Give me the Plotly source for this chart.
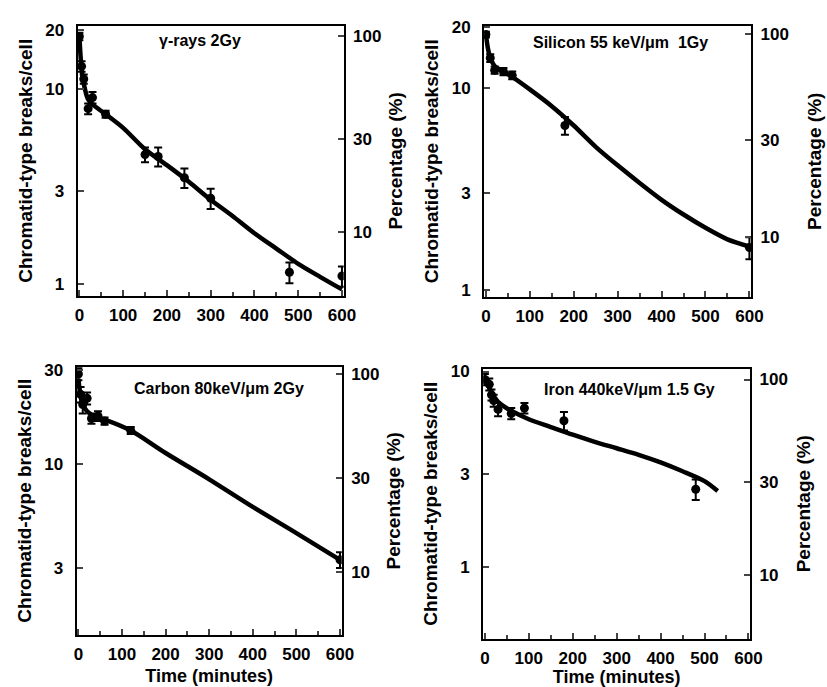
import math
import plotly.graph_objects as go

# ---- measured chromatid-type breaks per cell (points) and fitted curves ----
gamma_t = [0, 5, 10, 20, 30, 60, 150, 180, 240, 300, 480, 600]
gamma_y = [18.5, 13.0, 11.2, 7.9, 9.0, 7.4, 4.6, 4.5, 3.5, 2.75, 1.15, 1.1]
gamma_err = [0.8, 0.8, 0.6, 0.5, 0.6, 0.3, 0.4, 0.5, 0.4, 0.33, 0.14, 0.13]
gamma_fit_t = [0, 2, 5, 10, 20, 30, 60, 100, 150, 200, 250, 300, 350, 400, 450, 500, 550, 600]
gamma_fit_y = [18.6, 15.5, 12.6, 10.6, 8.8, 8.3, 7.4, 6.3, 4.9, 4.06, 3.34, 2.7, 2.23, 1.82, 1.52, 1.27, 1.09, 0.94]

silicon_t = [0, 10, 20, 40, 60, 180, 600]
silicon_y = [18.3, 14.0, 12.2, 12.0, 11.5, 6.5, 1.62]
silicon_err = [0.6, 0.6, 0.5, 0.5, 0.5, 0.65, 0.2]
silicon_fit_t = [0, 5, 10, 20, 40, 60, 100, 150, 200, 250, 300, 350, 400, 450, 500, 550, 600]
silicon_fit_y = [18.3, 15.5, 14.0, 12.8, 12.0, 11.3, 9.8, 8.1, 6.5, 5.1, 4.13, 3.38, 2.79, 2.36, 2.03, 1.78, 1.64]

carbon_t = [0, 5, 10, 20, 30, 45, 60, 120, 600]
carbon_y = [28.5, 22.5, 20.0, 21.5, 17.0, 17.5, 16.5, 14.8, 3.3]
carbon_err = [2.0, 2.0, 2.0, 1.5, 1.0, 1.0, 0.7, 0.6, 0.3]
carbon_fit_t = [0, 5, 10, 20, 40, 60, 120, 200, 300, 400, 500, 600]
carbon_fit_y = [27.0, 22.0, 20.0, 18.5, 17.3, 16.8, 14.8, 11.4, 8.4, 6.1, 4.5, 3.3]

iron_t = [0, 10, 15, 20, 30, 60, 90, 180, 480]
iron_y = [9.1, 8.6, 7.6, 7.1, 6.4, 6.1, 6.5, 5.6, 2.5]
iron_err = [0.6, 0.6, 0.5, 0.5, 0.5, 0.4, 0.4, 0.6, 0.3]
iron_fit_t = [0, 10, 20, 30, 45, 60, 100, 150, 200, 250, 300, 350, 400, 450, 500, 530]
iron_fit_y = [9.1, 8.25, 7.5, 7.0, 6.6, 6.3, 5.7, 5.2, 4.75, 4.37, 4.05, 3.75, 3.43, 3.09, 2.75, 2.45]

panel_labels = ["\u03b3-rays 2Gy", "Silicon 55 keV/\u03bcm\u00a0 1Gy",
                "Carbon 80keV/\u03bcm 2Gy", "Iron 440keV/\u03bcm 1.5 Gy"]
left_ticks = [[1, 3, 10, 20], [1, 3, 10, 20], [3, 10, 30], [1, 3, 10]]
right_ticks = [10, 30, 100]
x_ticks = [0, 100, 200, 300, 400, 500, 600]

W, H = 827, 687
FONT = "Liberation Sans, Arial, sans-serif"

# plot-area boxes in pixels: (left, right, top, bottom) and log10 y-range
boxes = [(76, 347, 18, 293), (490, 762, 18, 294), (75, 345, 365, 638), (489, 761, 367, 642)]
yranges = [(-0.060, 1.322), (-0.034, 1.306), (0.1405, 1.492), (-0.367, 1.015)]
label_pos = [(201, 33), (629, 35), (220, 387), (638, 388)]
right_title_gap = [8, 20, 8, 10]

panels = [
    (gamma_t, gamma_y, gamma_err, gamma_fit_t, gamma_fit_y),
    (silicon_t, silicon_y, silicon_err, silicon_fit_t, silicon_fit_y),
    (carbon_t, carbon_y, carbon_err, carbon_fit_t, carbon_fit_y),
    (iron_t, iron_y, iron_err, iron_fit_t, iron_fit_y),
]

fig = go.Figure()
layout = {}
annotations = []

tick_font = dict(family=FONT, size=17, color="black", weight="bold")
title_font = dict(family=FONT, size=19, color="black", weight="bold")

for i, (t, y, err, ft, fy) in enumerate(panels, start=1):
    xid = "x" if i == 1 else f"x{i}"
    yl = "y" if i == 1 else f"y{2 * i - 1}"
    yr = f"y{2 * i}"
    xkey = "xaxis" if i == 1 else f"xaxis{i}"
    ylkey = "yaxis" if i == 1 else f"yaxis{2 * i - 1}"
    yrkey = f"yaxis{2 * i}"

    l, r, tp, bt = boxes[i - 1]
    lo, hi = yranges[i - 1]
    base = y[0]  # 100 % = count at time zero
    shift = math.log10(100.0 / base)

    # fitted curve
    fig.add_trace(go.Scatter(x=ft, y=fy, mode="lines", xaxis=xid, yaxis=yl,
                             line=dict(color="black", width=4.5, shape="spline", smoothing=0.8),
                             showlegend=False, hoverinfo="skip"))
    # measured points with error bars
    fig.add_trace(go.Scatter(x=t, y=y, mode="markers", xaxis=xid, yaxis=yl,
                             marker=dict(color="black", size=9, symbol="circle"),
                             error_y=dict(type="data", array=err, color="black",
                                          thickness=2, width=4),
                             showlegend=False))
    # same points expressed as percentage of the initial count (right axis)
    fig.add_trace(go.Scatter(x=t, y=[v * 100.0 / base for v in y], mode="markers",
                             xaxis=xid, yaxis=yr, marker=dict(opacity=0),
                             showlegend=False))

    layout[xkey] = dict(
        domain=[l / W, r / W], anchor=yl, range=[-4, 604],
        tickvals=x_ticks, ticks="inside", ticklen=6, tickwidth=2, ticklabelstandoff=3,
        minor=dict(dtick=50, tick0=0, ticks="inside", ticklen=4, tickwidth=2),
        showline=True, linewidth=2, linecolor="black", mirror=True,
        showgrid=False, zeroline=False, tickfont=tick_font,
        title=dict(text="Time (minutes)" if i >= 3 else "",
                   font=dict(family=FONT, size=18, color="black", weight="bold"), standoff=6),
    )
    layout[ylkey] = dict(
        domain=[1 - bt / H, 1 - tp / H], anchor=xid, type="log",
        range=[lo, hi], tickvals=left_ticks[i - 1],
        ticktext=[str(v) for v in left_ticks[i - 1]],
        ticks="inside", ticklen=6, tickwidth=2, ticklabelstandoff=8,
        showline=True, linewidth=2, linecolor="black",
        showgrid=False, zeroline=False, tickfont=tick_font,
        title=dict(text="Chromatid-type breaks/cell", font=title_font, standoff=8),
    )
    layout[yrkey] = dict(
        anchor=xid, overlaying=yl, side="right", type="log",
        range=[lo + shift, hi + shift], tickvals=right_ticks,
        ticktext=[str(v) for v in right_ticks],
        ticks="inside", ticklen=6, tickwidth=2, ticklabelstandoff=4,
        showline=True, linewidth=2, linecolor="black",
        showgrid=False, zeroline=False, tickfont=tick_font,
        title=dict(text="Percentage (%)", font=title_font, standoff=right_title_gap[i - 1]),
    )

    ax, ay = label_pos[i - 1]
    annotations.append(dict(text=panel_labels[i - 1], xref="paper", yref="paper",
                            x=ax / W, y=1 - ay / H, xanchor="center", yanchor="middle",
                            showarrow=False,
                            font=dict(family=FONT, size=16, color="black", weight="bold")))

fig.update_layout(**layout)
fig.update_layout(width=W, height=H, margin=dict(l=0, r=0, t=0, b=0),
                  paper_bgcolor="white", plot_bgcolor="white",
                  annotations=annotations, showlegend=False)

fig.write_html("out.html")
